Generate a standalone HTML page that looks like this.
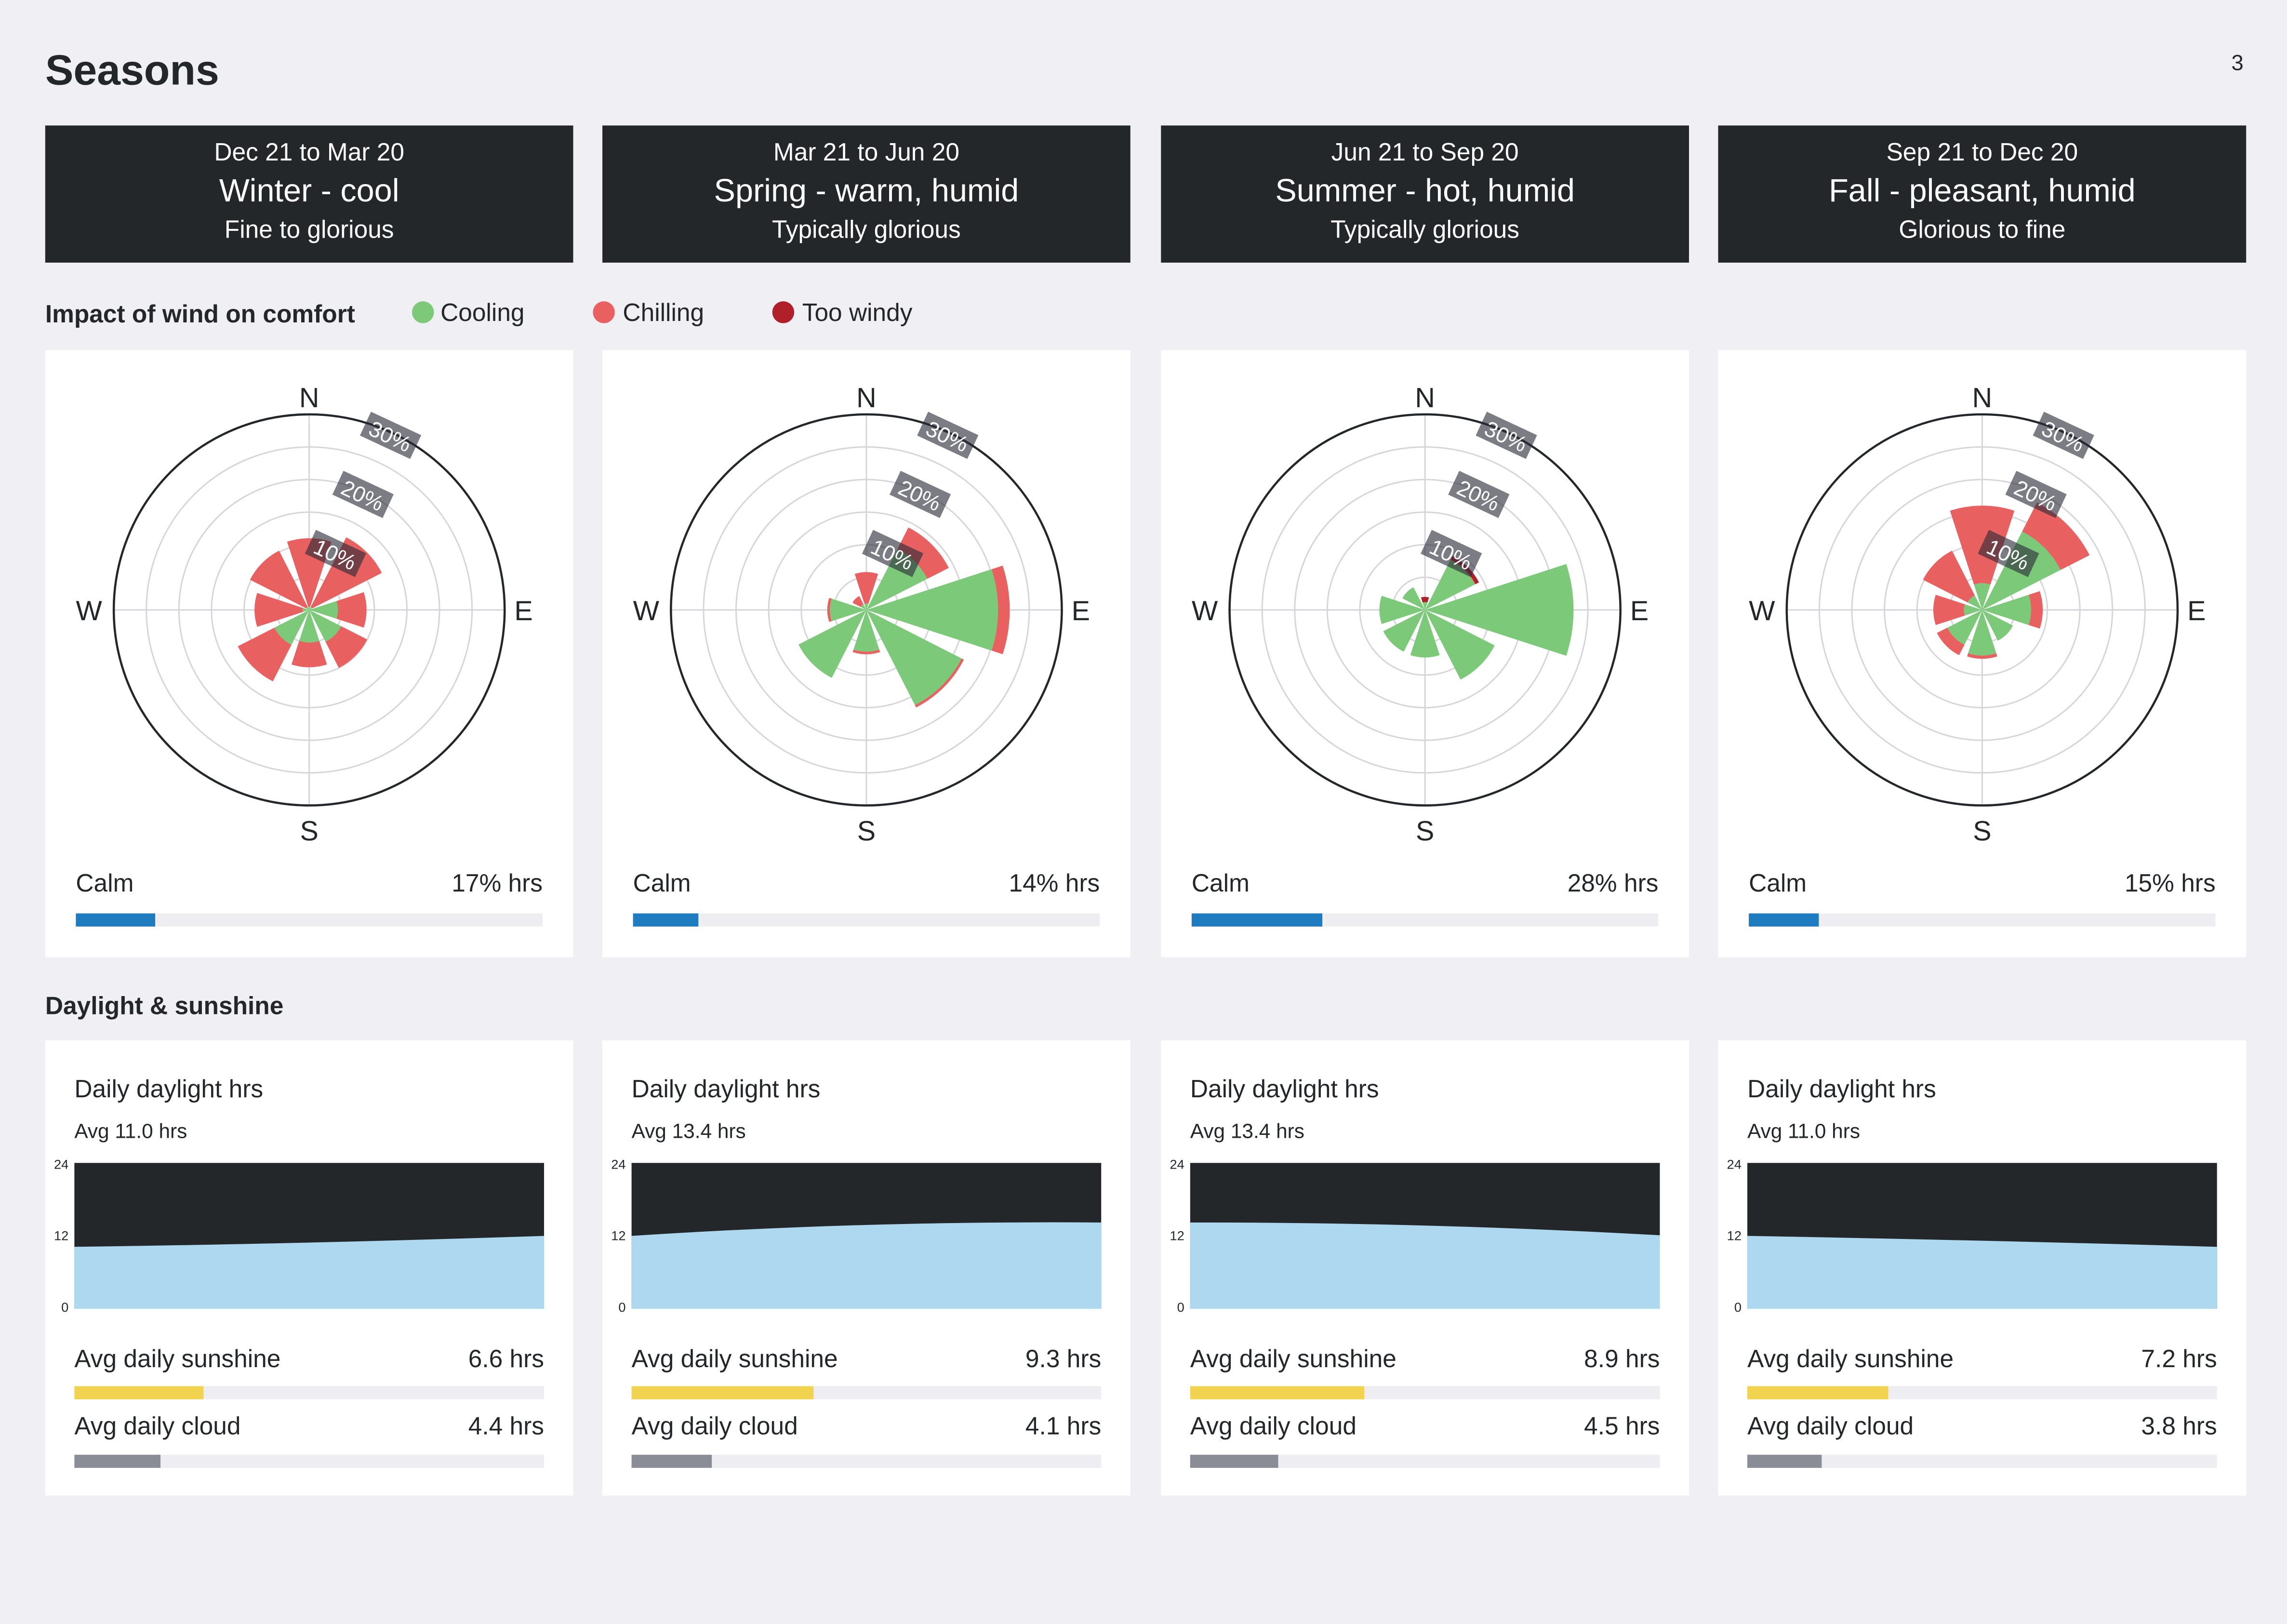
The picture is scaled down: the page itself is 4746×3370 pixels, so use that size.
<!DOCTYPE html>
<html><head><meta charset="utf-8"><style>
html,body{margin:0;padding:0;background:#f0f0f4;}
svg{display:block;}
text{font-family:"Liberation Sans",Arial,sans-serif;}
</style></head><body>
<svg id="s" xmlns="http://www.w3.org/2000/svg" width="4746" height="3370" viewBox="0 0 1568 1113" preserveAspectRatio="none">
<rect x="0" y="0" width="1568" height="1113" fill="#f0f0f4"/>
<text x="31" y="58" font-size="29" font-weight="bold" fill="#23272a">Seasons</text>
<text x="1534" y="48" font-size="15" fill="#23272a" text-anchor="middle">3</text>
<text x="31" y="221" font-size="17" font-weight="bold" fill="#23272a">Impact of wind on comfort</text>
<circle cx="290" cy="214" r="7.5" fill="#7dc97a"/><text x="302" y="220" font-size="17" fill="#23272a">Cooling</text>
<circle cx="414" cy="214" r="7.5" fill="#e86060"/><text x="427" y="220" font-size="17" fill="#23272a">Chilling</text>
<circle cx="537" cy="214" r="7.5" fill="#b0202a"/><text x="550" y="220" font-size="17" fill="#23272a">Too windy</text>
<text x="31" y="695" font-size="17" font-weight="bold" fill="#23272a">Daylight &amp; sunshine</text>
<g id="g"></g>
</svg>
<script>
var NS="http://www.w3.org/2000/svg",G=document.getElementById('g'),h='';
var cols=[31,413,796,1178],W=362;
var hdr=[["Dec 21 to Mar 20","Winter - cool","Fine to glorious"],["Mar 21 to Jun 20","Spring - warm, humid","Typically glorious"],["Jun 21 to Sep 20","Summer - hot, humid","Typically glorious"],["Sep 21 to Dec 20","Fall - pleasant, humid","Glorious to fine"]];
// 8 dirs N,NE,E,SE,S,SW,W,NW : [green, red(cum), darkred(cum)]
var rose=[
[[0.5,11,11],[0.5,12.5,12.5],[4.4,8.8,8.8],[5.5,10,10],[5,8.8,8.8],[6,12.3,12.3],[1,8.4,8.4],[0.5,10.2,10.2]],
[[1,5.8,5.8],[10.5,14.2,14.2],[20.2,22,22],[16.4,16.8,16.8],[6.4,6.8,6.8],[11.7,11.7,11.7],[5.6,6,6],[1,2.4,2.4]],
[[1.2,1.2,2],[8.6,8.7,9.3],[22.8,22.8,22.8],[12,12,12],[7.3,7.3,7.3],[7.2,7.2,7.2],[7,7,7],[3.9,3.9,3.9]],
[[4.1,16,16],[13.5,18.5,18.5],[7.5,9.3,9.3],[5.3,5.3,5.3],[7,7.5,7.5],[6,7.8,7.8],[2.8,7.5,7.5],[2.5,10.2,10.2]]];
var calm=[17,14,28,15];
var day=[["11.0",[10.2,10.9,12]],["13.4",[12,13.8,14.2]],["13.4",[14.2,13.7,12.1]],["11.0",[12,11.2,10.2]]];
var sun=[6.6,9.3,8.9,7.2],cld=[4.4,4.1,4.5,3.8];
function pt(cx,cy,r,a){a=a*Math.PI/180;return [cx+r*Math.sin(a),cy-r*Math.cos(a)];}
function sec(cx,cy,r0,r1,a0,a1,c){if(r1<=r0)return '';var p1=pt(cx,cy,r0,a0),p2=pt(cx,cy,r1,a0),p3=pt(cx,cy,r1,a1),p4=pt(cx,cy,r0,a1);
return '<path d="M'+p1+' L'+p2+' A'+r1+' '+r1+' 0 0 1 '+p3+' L'+p4+(r0>0?' A'+r0+' '+r0+' 0 0 0 '+p1:'')+'Z" fill="'+c+'"/>';}
for(var i=0;i<4;i++){
 var x=cols[i],cx=x+W/2;
 h+='<rect x="'+x+'" y="86" width="'+W+'" height="94" fill="#23272a"/>';
 h+='<text x="'+cx+'" y="110" font-size="17" fill="#fff" text-anchor="middle">'+hdr[i][0]+'</text>';
 h+='<text x="'+cx+'" y="138" font-size="22" fill="#fff" text-anchor="middle">'+hdr[i][1]+'</text>';
 h+='<text x="'+cx+'" y="163" font-size="17" fill="#fff" text-anchor="middle">'+hdr[i][2]+'</text>';
 // wind panel
 h+='<rect x="'+x+'" y="240" width="'+W+'" height="416" fill="#fff"/>';
 var cy=418,R=134,k=R/30;
 for(var j=1;j<=5;j++)h+='<circle cx="'+cx+'" cy="'+cy+'" r="'+(j*R/6)+'" fill="none" stroke="#d6d6da" stroke-width="1"/>';
 h+='<line x1="'+cx+'" y1="'+(cy-R)+'" x2="'+cx+'" y2="'+(cy+R)+'" stroke="#d6d6da"/>';
 h+='<line x1="'+(cx-R)+'" y1="'+cy+'" x2="'+(cx+R)+'" y2="'+cy+'" stroke="#d6d6da"/>';
 for(var d=0;d<8;d++){var a=d*45,v=rose[i][d];
  h+=sec(cx,cy,0,v[0]*k,a-18,a+18,'#7dc97a');
  h+=sec(cx,cy,v[0]*k,v[1]*k,a-18,a+18,'#e86060');
  h+=sec(cx,cy,v[1]*k,v[2]*k,a-18,a+18,'#b0202a');}
 h+='<circle cx="'+cx+'" cy="'+cy+'" r="'+R+'" fill="none" stroke="#23272a" stroke-width="1.5"/>';
 var labs=['10%','20%','30%'];
 for(var j=0;j<3;j++){var r=(j+1)*R/3-2,p=pt(cx,cy,r,25);
  h+='<g transform="translate('+p[0]+','+p[1]+') rotate(25)"><rect x="-19" y="-9" width="38" height="18" fill="#2b2b38" fill-opacity="0.62"/><text x="0" y="6" font-size="15" fill="#fff" text-anchor="middle">'+labs[j]+'</text></g>';}
 h+='<text x="'+cx+'" y="279" font-size="19" fill="#23272a" text-anchor="middle">N</text>';
 h+='<text x="'+cx+'" y="576" font-size="19" fill="#23272a" text-anchor="middle">S</text>';
 h+='<text x="'+(cx-151)+'" y="425" font-size="19" fill="#23272a" text-anchor="middle">W</text>';
 h+='<text x="'+(cx+147)+'" y="425" font-size="19" fill="#23272a" text-anchor="middle">E</text>';
 var bx=x+21,bw=320;
 h+='<text x="'+bx+'" y="611" font-size="17" fill="#23272a">Calm</text>';
 h+='<text x="'+(bx+bw)+'" y="611" font-size="17" fill="#23272a" text-anchor="end">'+calm[i]+'% hrs</text>';
 h+='<rect x="'+bx+'" y="626" width="'+bw+'" height="9" fill="#eeeef2"/>';
 h+='<rect x="'+bx+'" y="626" width="'+(calm[i]*bw/100)+'" height="9" fill="#1f7bc0"/>';
 // daylight panel
 h+='<rect x="'+x+'" y="713" width="'+W+'" height="312" fill="#fff"/>';
 var lx=x+20,cw=322;
 h+='<text x="'+lx+'" y="752" font-size="17" fill="#23272a">Daily daylight hrs</text>';
 h+='<text x="'+lx+'" y="780" font-size="14" fill="#23272a">Avg '+day[i][0]+' hrs</text>';
 h+='<text x="'+(lx-4)+'" y="801" font-size="9" fill="#23272a" text-anchor="end">24</text>';
 h+='<text x="'+(lx-4)+'" y="850" font-size="9" fill="#23272a" text-anchor="end">12</text>';
 h+='<text x="'+(lx-4)+'" y="899" font-size="9" fill="#23272a" text-anchor="end">0</text>';
 var t=797,b=897,f=function(v){return b-v/24*100;},q=day[i][1];
 h+='<rect x="'+lx+'" y="'+t+'" width="'+cw+'" height="100" fill="#23272a"/>';
 var my=2*f(q[1])-(f(q[0])+f(q[2]))/2;
 h+='<path d="M'+lx+','+b+' L'+lx+','+f(q[0])+' Q'+(lx+cw/2)+','+my+' '+(lx+cw)+','+f(q[2])+' L'+(lx+cw)+','+b+'Z" fill="#aed8f0"/>';
 h+='<text x="'+lx+'" y="937" font-size="17" fill="#23272a">Avg daily sunshine</text>';
 h+='<text x="'+(lx+cw)+'" y="937" font-size="17" fill="#23272a" text-anchor="end">'+sun[i]+' hrs</text>';
 h+='<rect x="'+lx+'" y="950" width="'+cw+'" height="9" fill="#eeeef2"/>';
 h+='<rect x="'+lx+'" y="950" width="'+(sun[i]/24*cw)+'" height="9" fill="#f2d34f"/>';
 h+='<text x="'+lx+'" y="983" font-size="17" fill="#23272a">Avg daily cloud</text>';
 h+='<text x="'+(lx+cw)+'" y="983" font-size="17" fill="#23272a" text-anchor="end">'+cld[i]+' hrs</text>';
 h+='<rect x="'+lx+'" y="997" width="'+cw+'" height="9" fill="#eeeef2"/>';
 h+='<rect x="'+lx+'" y="997" width="'+(cld[i]/24*cw)+'" height="9" fill="#8a8c96"/>';
}
G.innerHTML=h;
</script>
</body></html>
